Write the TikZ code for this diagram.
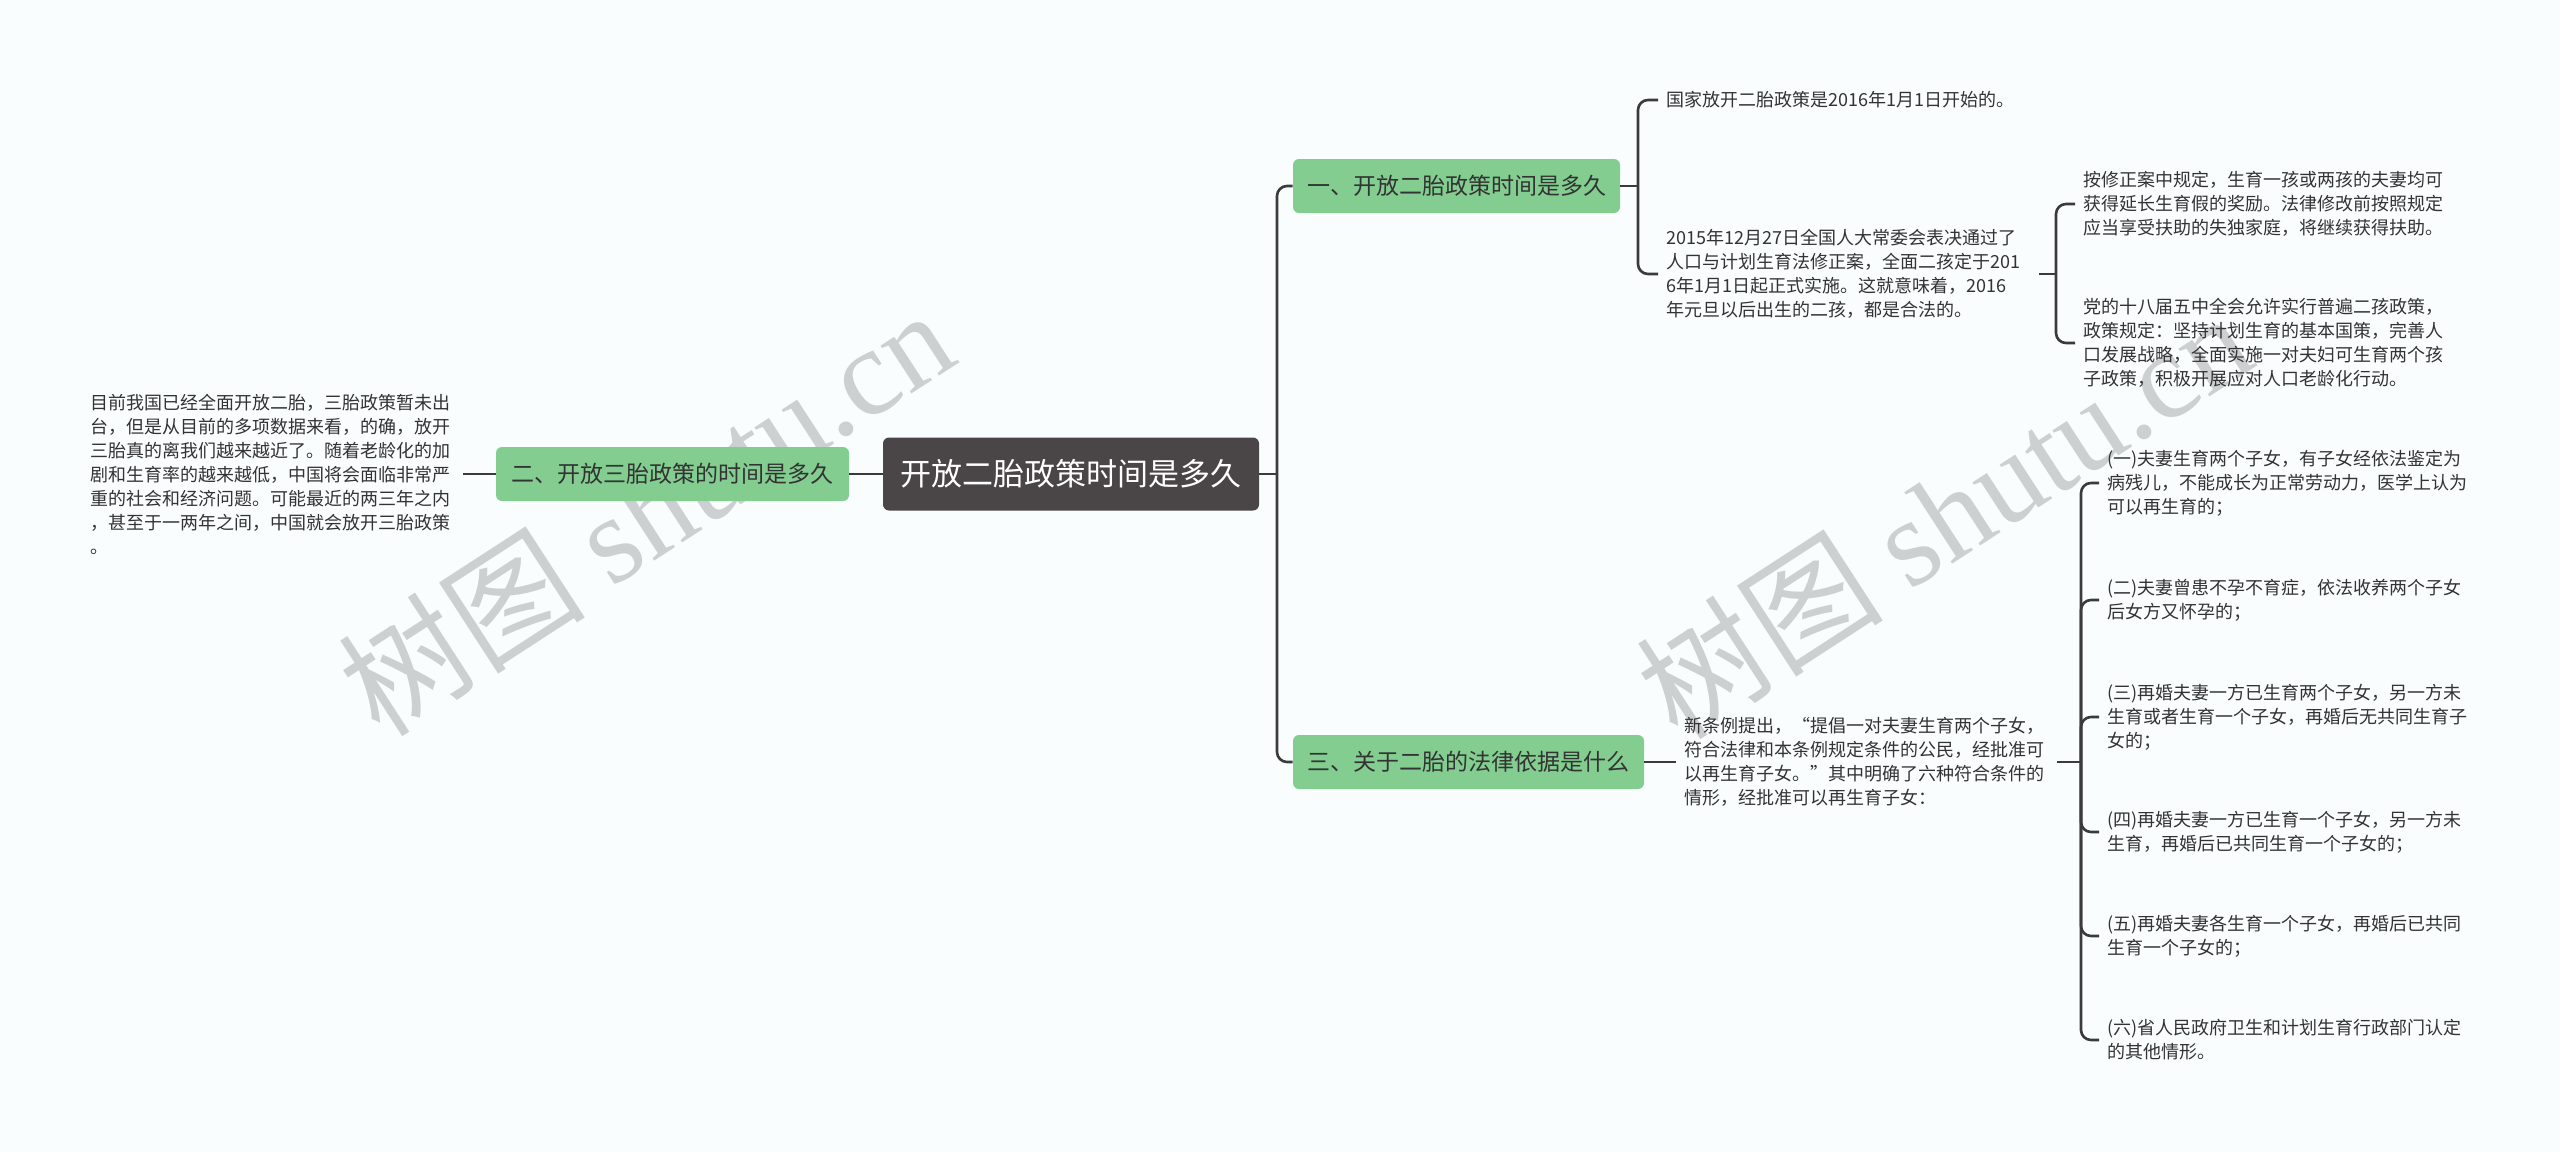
\documentclass[tikz,border=0pt]{standalone}
\usepackage{fontspec}
\setmainfont{Noto Sans CJK SC}
\newfontfamily\wmserif{Liberation Serif}
\usepackage{tikz}
\usetikzlibrary{positioning,
                calc}
\definecolor{pagebg}{HTML}{F9FDFE}
\definecolor{rootgray}{HTML}{4A4546}
\definecolor{topicgreen}{HTML}{82CD8F}
\definecolor{linkgray}{HTML}{3B3B3B}
\definecolor{textgray}{HTML}{333333}
\definecolor{markgray}{HTML}{CDD0D0}

\begin{document}
\begin{tikzpicture}[x=0.5pt,y=-0.5pt]

\tikzset{
rootbox/.style={
fill=rootgray,
text=white,
rounded corners=3pt,
inner sep=0pt,
minimum width=188pt,
minimum height=36.5pt,
font=\fontsize{15.5}{18}\selectfont
},
topicbox/.style={
fill=topicgreen,
text=textgray,
rounded corners=3pt,
inner sep=0pt,
minimum height=27pt,
font=\fontsize{11.5}{14}\selectfont
},
leaftext/.style={
anchor=west,
align=left,
text width=182pt,
inner xsep=4pt,
inner ysep=0pt,
text=textgray,
font=\fontsize{9}{12}\selectfont
},
link/.style={
draw=linkgray,
line width=1.3pt
},
hook/.style={
link,
rounded corners=5pt
},
watermark/.style={
text=markgray,
rotate=33,
font=\fontsize{62}{64}\selectfont
}
}

\useasboundingbox (0,0) rectangle (2560,1152);
\fill[pagebg] (0,0) rectangle (2560,1152);

%--------------------------------------------------
% WATERMARKS
%--------------------------------------------------

\node[watermark] (mark1) at (645,511) {树图 {\wmserif shutu.cn}};
\node[watermark] (mark2) at (1943,514) {树图 {\wmserif shutu.cn}};

%--------------------------------------------------
% ROOT AND LEFT BRANCH
%--------------------------------------------------

\node[rootbox] (root) at (1071,474) {开放二胎政策时间是多久};

\node[topicbox,minimum width=176.5pt] (topic2) at (672.5,474) {二、开放三胎政策的时间是多久};

\node[leaftext] (note2) at (82,474) {目前我国已经全面开放二胎，三胎政策暂未出\\
台，但是从目前的多项数据来看，的确，放开\\
三胎真的离我们越来越近了。随着老龄化的加\\
剧和生育率的越来越低，中国将会面临非常严\\
重的社会和经济问题。可能最近的两三年之内\\
，甚至于一两年之间，中国就会放开三胎政策\\
。};

\draw[link] (note2.east) -- (topic2.west);
\draw[link] (topic2.east) -- (root.west);

%--------------------------------------------------
% RIGHT BRANCHES
%--------------------------------------------------

\node[topicbox,minimum width=163.5pt] (topic1) at (1456.5,186) {一、开放二胎政策时间是多久};
\node[topicbox,minimum width=175.5pt] (topic3) at (1468.5,762) {三、关于二胎的法律依据是什么};

\coordinate (fork0) at (1277,474);
\draw[link] (root.east) -- (fork0);
\draw[hook] (fork0) |- (topic1.west);
\draw[hook] (fork0) |- (topic3.west);

%--------------------------------------------------
% TOPIC ONE
%--------------------------------------------------

\node[leaftext] (date1) at (1658,100) {国家放开二胎政策是2016年1月1日开始的。};

\node[leaftext] (date2) at (1658,274) {2015年12月27日全国人大常委会表决通过了\\
人口与计划生育法修正案，全面二孩定于201\\
6年1月1日起正式实施。这就意味着，2016\\
年元旦以后出生的二孩，都是合法的。};

\coordinate (fork1) at (1638,186);
\draw[link] (topic1.east) -- (fork1);
\draw[hook] (fork1) |- (date1.west);
\draw[hook] (fork1) |- (date2.west);

\node[leaftext] (reward) at (2075,204) {按修正案中规定，生育一孩或两孩的夫妻均可\\
获得延长生育假的奖励。法律修改前按照规定\\
应当享受扶助的失独家庭，将继续获得扶助。};

\node[leaftext] (plenum) at (2075,343) {党的十八届五中全会允许实行普遍二孩政策，\\
政策规定：坚持计划生育的基本国策，完善人\\
口发展战略，全面实施一对夫妇可生育两个孩\\
子政策，积极开展应对人口老龄化行动。};

\coordinate (fork2) at (2056,274);
\draw[link] (date2.east) -- (fork2);
\draw[hook] (fork2) |- (reward.west);
\draw[hook] (fork2) |- (plenum.west);

%--------------------------------------------------
% TOPIC THREE
%--------------------------------------------------

\node[leaftext] (rule) at (1676,762) {新条例提出，“提倡一对夫妻生育两个子女，\\
符合法律和本条例规定条件的公民，经批准可\\
以再生育子女。”其中明确了六种符合条件的\\
情形，经批准可以再生育子女：};

\draw[link] (topic3.east) -- (rule.west);

\node[leaftext] (case1) at (2099,483) {(一)夫妻生育两个子女，有子女经依法鉴定为\\
病残儿，不能成长为正常劳动力，医学上认为\\
可以再生育的；};
\node[leaftext] (case2) at (2099,600) {(二)夫妻曾患不孕不育症，依法收养两个子女\\
后女方又怀孕的；};
\node[leaftext] (case3) at (2099,717) {(三)再婚夫妻一方已生育两个子女，另一方未\\
生育或者生育一个子女，再婚后无共同生育子\\
女的；};
\node[leaftext] (case4) at (2099,832) {(四)再婚夫妻一方已生育一个子女，另一方未\\
生育，再婚后已共同生育一个子女的；};
\node[leaftext] (case5) at (2099,936) {(五)再婚夫妻各生育一个子女，再婚后已共同\\
生育一个子女的；};
\node[leaftext] (case6) at (2099,1040) {(六)省人民政府卫生和计划生育行政部门认定\\
的其他情形。};

\coordinate (fork3) at (2081,762);
\draw[link] (rule.east) -- (fork3);
\foreach \leaf in {case1,case2,case3,case4,case5,case6}
  \draw[hook] (fork3) |- (\leaf.west);

\end{tikzpicture}
\end{document}
